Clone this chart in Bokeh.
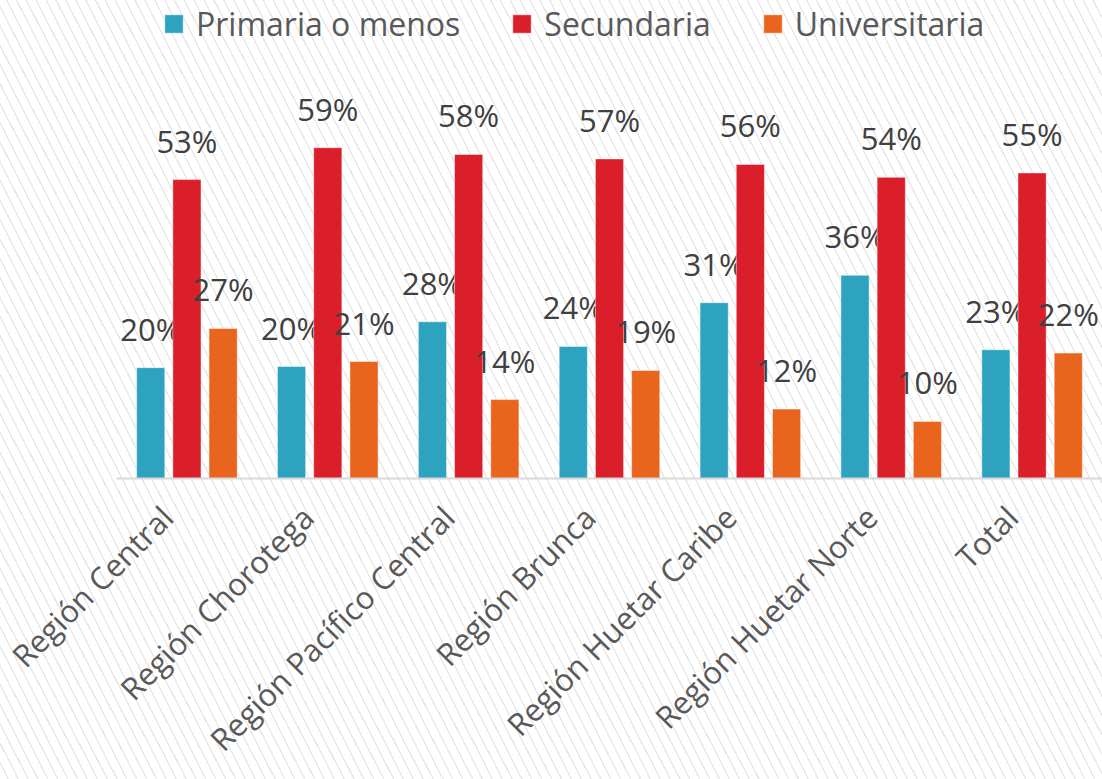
from bokeh.plotting import figure
from bokeh.models import (ColumnDataSource, Range1d, Legend, LegendItem,
                          LinearAxis, FixedTicker)
from bokeh.transform import dodge
from bokeh.core.properties import value
from bokeh.embed import file_html
from bokeh.resources import INLINE
from math import pi

regions = ["Región Central", "Región Chorotega", "Región Pacífico Central",
           "Región Brunca", "Región Huetar Caribe", "Región Huetar Norte", "Total"]
primaria = [19.8, 20.0, 28.0, 23.6, 31.4, 36.3, 23.0]
secundaria = [53.4, 59.1, 57.9, 57.1, 56.1, 53.8, 54.6]
universitaria = [26.8, 20.9, 14.1, 19.3, 12.4, 10.2, 22.4]
series_names = ["Primaria o menos", "Secundaria", "Universitaria"]
colors = ["#2ea3c0", "#da1f2b", "#e9651e"]

FONT = value("Open Sans")
n = len(regions)
idx = list(range(n))

src = ColumnDataSource(dict(
    idx=idx,
    region=regions,
    primaria=primaria,
    secundaria=secundaria,
    universitaria=universitaria,
    lab_p=[f"{round(v)}%" for v in primaria],
    lab_s=[f"{round(v)}%" for v in secundaria],
    lab_u=[f"{round(v)}%" for v in universitaria],
))

p = figure(width=1102, height=779, x_range=Range1d(-0.5, n - 0.5), y_range=Range1d(0, 85.4),
           output_backend="svg", toolbar_location=None, y_axis_location=None,
           x_axis_location=None,
           min_border_left=116, min_border_right=0, min_border_top=0, min_border_bottom=301)

p.background_fill_color = None
p.border_fill_color = None
p.outline_line_color = None
p.styles = {"background-image": "repeating-linear-gradient(63deg, #ffffff 0px, #ffffff 6.8px, #e8e8e8 6.8px, #e8e8e8 8.2px, #ffffff 8.2px, #ffffff 8.8px)"}
p.xgrid.grid_line_color = None
p.ygrid.grid_line_color = None

cols = ["primaria", "secundaria", "universitaria"]
labs = ["lab_p", "lab_s", "lab_u"]
offsets = [-0.257, 0.0, 0.257]
items = []
for col, lab, off, color, name in zip(cols, labs, offsets, colors, series_names):
    r = p.vbar(x=dodge("idx", off), top=col, width=0.2, source=src,
               fill_color=color, line_color="white", line_alpha=0.45, line_width=1)
    p.text(x=dodge("idx", off), y=col, text=lab, source=src,
           text_align="center", text_baseline="alphabetic", y_offset=-39,
           text_font=FONT, text_font_size="31px", text_color="#404040")
    items.append(LegendItem(label=name, renderers=[r]))

legend = Legend(items=items, orientation="horizontal", location=(46, 433),
                padding=0, margin=0, spacing=50, label_standoff=11,
                glyph_width=23, glyph_height=23,
                label_text_font="Open Sans", label_text_font_size="32px", label_text_color="#595959",
                border_line_color=None, background_fill_alpha=0)
p.add_layout(legend)

# category axis (labels anchored the way the source chart anchors its rotated labels)
shift = 0.142
p.extra_x_ranges = {"labels": Range1d(-0.5 + shift, n - 0.5 + shift)}
ax = LinearAxis(x_range_name="labels", ticker=FixedTicker(ticks=idx, minor_ticks=[]),
                major_label_overrides={i: name for i, name in zip(idx, regions)})
ax.axis_line_color = "#d9d9d9"
ax.axis_line_width = 2
ax.major_tick_line_color = None
ax.minor_tick_line_color = None
ax.major_label_orientation = pi / 4
ax.major_label_standoff = 27
ax.major_label_text_font = "Open Sans"
ax.major_label_text_font_size = "31px"
ax.major_label_text_color = "#595959"
p.add_layout(ax, "below")

open("out.html", "w").write(file_html(p, INLINE))
